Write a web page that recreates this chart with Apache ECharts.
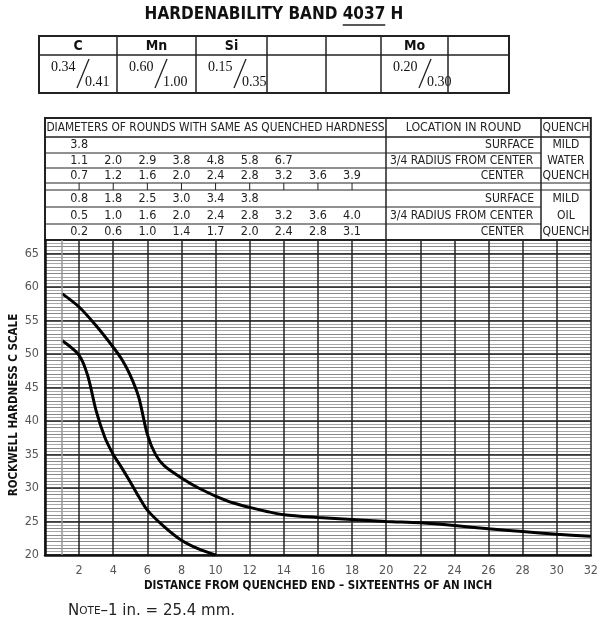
<!DOCTYPE html>
<html>
<head>
<meta charset="utf-8">
<title>Hardenability Band 4037 H</title>
<script src="https://cdn.jsdelivr.net/npm/echarts@6/dist/echarts.min.js"></script>
<style>
html, body { margin: 0; padding: 0; background: #fff; }
#main { width: 601px; height: 623px; }
</style>
</head>
<body>
<div id="main"></div>
<script>
// chemistry table
var elements = ['C', 'Mn', 'Si', '', '', 'Mo', ''];
var elementMin = ['0.34', '0.60', '0.15', '', '', '0.20', ''];
var elementMax = ['0.41', '1.00', '0.35', '', '', '0.30', ''];

// diameters of rounds, one value per even J distance starting at 2
var waterSurface = ['3.8'];
var waterThreeQuarter = ['1.1', '2.0', '2.9', '3.8', '4.8', '5.8', '6.7'];
var waterCenter = ['0.7', '1.2', '1.6', '2.0', '2.4', '2.8', '3.2', '3.6', '3.9'];
var oilSurface = ['0.8', '1.8', '2.5', '3.0', '3.4', '3.8'];
var oilThreeQuarter = ['0.5', '1.0', '1.6', '2.0', '2.4', '2.8', '3.2', '3.6', '4.0'];
var oilCenter = ['0.2', '0.6', '1.0', '1.4', '1.7', '2.0', '2.4', '2.8', '3.1'];

// band curves (distance in 1/16 in, HRC)
var distMax = [1, 2, 3, 4, 4.5, 5, 5.5, 6, 6.5, 7, 8, 9, 10, 11, 12, 13, 14, 16, 18, 20, 22, 24, 26, 28, 30, 32];
var hrcMax = [59, 57, 54.2, 51, 49.2, 46.8, 43.5, 38, 34.9, 33.3, 31.5, 30, 28.8, 27.8, 27.1, 26.5, 26, 25.6, 25.3, 25, 24.8, 24.4, 23.9, 23.5, 23.1, 22.8];
var distMin = [1, 2, 2.5, 3, 3.5, 4, 4.5, 5, 5.5, 6, 7, 8, 9, 10];
var hrcMin = [52, 49.8, 46.8, 41.5, 37.6, 35, 33, 30.9, 28.7, 26.7, 24.2, 22.2, 20.9, 20];

var fontTab = '"DejaVu Sans Condensed", "DejaVu Sans", sans-serif';
var fontNum = '"Liberation Serif", serif';

function pairs(xs, ys) {
  return xs.map(function (x, i) { return [x, ys[i]]; });
}

var chart = echarts.init(document.getElementById('main'));

var option = {
  animation: false,
  grid: { left: 45, right: 10, top: 240, bottom: 68 },
  xAxis: {
    type: 'value',
    min: 0,
    max: 32,
    interval: 2,
    axisLine: { lineStyle: { color: '#111', width: 2.5 } },
    axisTick: { show: false },
    axisLabel: {
      color: '#555',
      fontSize: 12.5,
      fontFamily: fontTab,
      margin: 9,
      formatter: function (v) { return v === 0 ? '' : v; }
    },
    splitLine: { lineStyle: { color: '#222', width: 1.5 } }
  },
  yAxis: [
    {
      type: 'value',
      min: 20,
      max: 67,
      interval: 1,
      axisLine: { show: true, lineStyle: { color: '#111', width: 2.5 } },
      axisTick: { show: false },
      axisLabel: {
        color: '#555',
        fontSize: 12.5,
        fontFamily: fontTab,
        margin: 6,
        formatter: function (v) { return (v % 5 === 0 && v <= 65) ? v : ''; }
      },
      splitLine: { lineStyle: { color: '#888', width: 1 } },
      minorTick: { show: false, splitNumber: 2 },
      minorSplitLine: { show: true, lineStyle: { color: '#a8a8a8', width: 1 } }
    },
    {
      type: 'value',
      min: 20,
      max: 67,
      interval: 5,
      position: 'left',
      axisLine: { show: false },
      axisTick: { show: false },
      axisLabel: { show: false },
      splitLine: { lineStyle: { color: '#222', width: 1.5 } }
    }
  ],
  series: [
    {
      name: 'max',
      type: 'line',
      data: pairs(distMax, hrcMax),
      smooth: 0.3,
      showSymbol: false,
      lineStyle: { color: '#000', width: 3 },
      markLine: {
        silent: true,
        symbol: 'none',
        label: { show: false },
        lineStyle: { color: '#999', width: 1.5, type: 'solid' },
        data: [{ xAxis: 1 }]
      }
    },
    {
      name: 'min',
      type: 'line',
      data: pairs(distMin, hrcMin),
      smooth: 0.3,
      showSymbol: false,
      lineStyle: { color: '#000', width: 3 }
    }
  ]
};
chart.setOption(option);

// ---- tables and labels around the plot ----
function txt(s, x, y, opt) {
  opt = opt || {};
  var a = opt.align || 'center';
  return {
    type: 'text', x: x, y: y, rotation: opt.rot || 0, silent: true,
    style: {
      text: s,
      font: opt.font || ('12px ' + fontTab),
      fill: opt.fill || '#222',
      align: a, textAlign: a,
      verticalAlign: 'middle', textVerticalAlign: 'middle',
      rich: opt.rich
    }
  };
}
function ln(x1, y1, x2, y2, w) {
  return {
    type: 'line', silent: true,
    shape: { x1: x1, y1: y1, x2: x2, y2: y2 },
    style: { stroke: '#222', lineWidth: w || 1 }
  };
}
function box(x, y, w, h, lw) {
  return {
    type: 'rect', silent: true,
    shape: { x: x, y: y, width: w, height: h },
    style: { fill: 'none', stroke: '#222', lineWidth: lw || 1 }
  };
}
function measure(font, s) {
  var c = document.createElement('canvas').getContext('2d');
  c.font = font;
  return c.measureText(s).width;
}

var px = function (x) { return chart.convertToPixel({ xAxisIndex: 0 }, x); };
var g = [];

// title
var titleFont = 'bold 17px ' + fontTab;
var tPre = 'HARDENABILITY BAND ', tNum = '4037', tEnd = ' H';
var wPre = measure(titleFont, tPre), wNum = measure(titleFont, tNum), wEnd = measure(titleFont, tEnd);
var tx0 = 274 - (wPre + wNum + wEnd) / 2;
g.push(txt(tPre + tNum + tEnd, tx0, 15, { font: titleFont, align: 'left', fill: '#111' }));
g.push(ln(tx0 + wPre, 25, tx0 + wPre + wNum, 25, 1.5));

// chemistry table
var chemCols = [39, 117, 196, 267, 326, 381, 448, 509];
g.push(box(39, 36, 470, 57, 2));
g.push(ln(39, 55, 509, 55, 1.5));
for (var i = 1; i < chemCols.length - 1; i++) g.push(ln(chemCols[i], 36, chemCols[i], 93, 1.5));
elements.forEach(function (el, i) {
  var c0 = chemCols[i], c1 = chemCols[i + 1];
  if (el) g.push(txt(el, (c0 + c1) / 2, 46, { font: 'bold 14px ' + fontTab, fill: '#111' }));
  if (elementMin[i]) {
    g.push(txt(elementMin[i], c0 + 12, 67, { font: '14px ' + fontNum, align: 'left', fill: '#111' }));
    g.push(ln(c0 + 38, 88, c0 + 50, 59, 1.3));
    g.push(txt(elementMax[i], c0 + 46, 82, { font: '14px ' + fontNum, align: 'left', fill: '#111' }));
  }
});

// diameters table
var L = px(0), R = px(32), cLoc = 386, cQ = 541;
var yTop = 118, yHead = 137;
g.push(box(L, yTop, R - L, 240 - yTop, 2));
g.push(ln(L, yHead, R, yHead, 1.5));
[153, 168, 207, 224].forEach(function (y) { g.push(ln(L, y, cQ, y, 1)); });
[183, 190].forEach(function (y) { g.push(ln(L, y, R, y, 1)); });
g.push(ln(cLoc, yTop, cLoc, 240, 1.5));
g.push(ln(cQ, yTop, cQ, 240, 1.5));
for (var d = 2; d <= 18; d += 2) g.push(ln(px(d), 183, px(d), 190, 1));

g.push(txt('DIAMETERS OF ROUNDS WITH SAME AS QUENCHED HARDNESS', (L + cLoc) / 2, 128, { font: '11.8px ' + fontTab }));
g.push(txt('LOCATION IN ROUND', (cLoc + cQ) / 2, 128, { font: '12.3px ' + fontTab }));
g.push(txt('QUENCH', (cQ + R) / 2, 128));

var rowData = [
  [waterSurface, 145], [waterThreeQuarter, 161], [waterCenter, 176],
  [oilSurface, 199], [oilThreeQuarter, 216], [oilCenter, 232]
];
rowData.forEach(function (r) {
  r[0].forEach(function (v, k) { g.push(txt(v, px(2 + 2 * k), r[1], { font: '12.5px ' + fontTab })); });
});
[[145, 199], [161, 216], [176, 232]].forEach(function (ys, k) {
  ys.forEach(function (y) {
    if (k === 0) g.push(txt('SURFACE', cQ - 7, y, { align: 'right' }));
    if (k === 1) g.push(txt('3/4 RADIUS FROM CENTER', cLoc + 4, y, { align: 'left' }));
    if (k === 2) g.push(txt('CENTER', cQ - 17, y, { align: 'right' }));
  });
});
['MILD', 'WATER', 'QUENCH'].forEach(function (s, k) { g.push(txt(s, (cQ + R) / 2, [145, 161, 176][k])); });
['MILD', 'OIL', 'QUENCH'].forEach(function (s, k) { g.push(txt(s, (cQ + R) / 2, [199, 216, 232][k])); });

// axis names
g.push(txt('ROCKWELL HARDNESS C SCALE', 14, 405, { font: 'bold 11.5px ' + fontTab, rot: Math.PI / 2, fill: '#111' }));
g.push(txt('DISTANCE FROM QUENCHED END \u2013 SIXTEENTHS OF AN INCH', 318, 586, { font: 'bold 11.5px ' + fontTab, fill: '#111' }));

// note
var noteFont = '"DejaVu Sans", sans-serif';
g.push(txt('{n|N}{s|OTE}\u20131 in. = 25.4 mm.', 68, 611, {
  font: '15px ' + noteFont, align: 'left', fill: '#222',
  rich: { n: { fontSize: 15, fontFamily: noteFont }, s: { fontSize: 10.5, fontFamily: noteFont } }
}));

chart.setOption({ graphic: { elements: g } });
</script>
</body>
</html>
